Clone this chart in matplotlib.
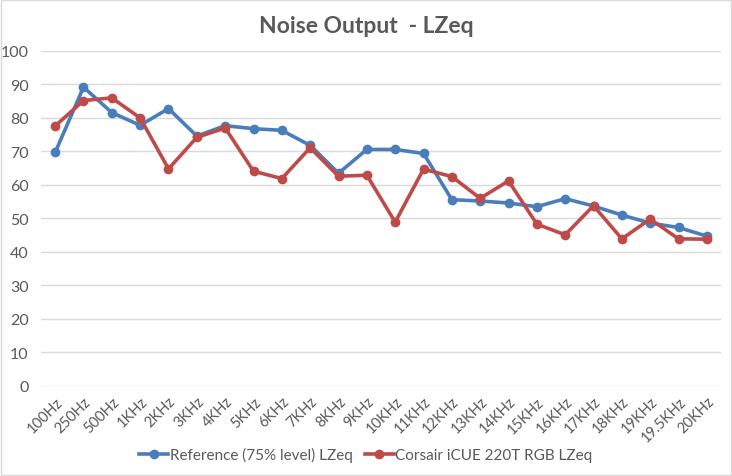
import matplotlib
matplotlib.use("Agg")
import matplotlib.pyplot as plt
from matplotlib.patches import Rectangle

categories = ["100Hz", "250Hz", "500Hz", "1KHz", "2KHz", "3KHz", "4KHz", "5KHz",
              "6KHz", "7KHz", "8KHz", "9KHz", "10KHz", "11KHz", "12KHz", "13KHz",
              "14KHz", "15KHz", "16KHz", "17KHz", "18KHz", "19KHz", "19.5KHz", "20KHz"]
reference = [69.7, 89.2, 81.6, 77.8, 82.8, 74.6, 77.7, 76.8, 76.3, 71.8, 63.5, 70.6,
             70.6, 69.4, 55.6, 55.2, 54.6, 53.5, 55.9, 53.7, 51.0, 48.6, 47.3, 44.7]
corsair = [77.6, 85.2, 86.0, 80.0, 64.8, 74.2, 77.0, 64.1, 61.9, 71.1, 62.6, 62.9,
           48.9, 64.7, 62.5, 56.0, 61.2, 48.3, 45.1, 53.8, 43.9, 49.8, 43.9, 43.8]
yticks = [0, 10, 20, 30, 40, 50, 60, 70, 80, 90, 100]

plt.rcParams['font.family'] = ['Lato', 'DejaVu Sans']
txt = '#595959'

fig = plt.figure(figsize=(7.32, 4.77), dpi=100)
fig.patches.append(Rectangle((0.001, 0.002), 0.997, 0.995, transform=fig.transFigure,
                             fill=False, edgecolor='#d9d9d9', linewidth=1))
ax = fig.add_axes([0.056, 0.189, 0.929, 0.702])
x = list(range(len(categories)))
ax.plot(x, reference, color='#4a7ebb', linewidth=2.6, marker='o', markersize=6,
        label='Reference (75% level) LZeq', zorder=3)
ax.plot(x, corsair, color='#be4b48', linewidth=2.6, marker='o', markersize=6,
        label='Corsair iCUE 220T RGB LZeq', zorder=4)
ax.set_xlim(-0.5, len(categories) - 0.5)
ax.set_ylim(0, 100)
ax.set_yticks(yticks)
ax.set_yticklabels([str(v) for v in yticks], fontsize=11.5, color=txt)
ax.set_xticks(x)
ax.set_xticklabels(categories, rotation=45, ha='right', rotation_mode='anchor',
                   fontsize=10.5, color=txt)
ax.tick_params(length=0)
ax.tick_params(axis='x', pad=6)
ax.tick_params(axis='y', pad=9)
ax.grid(axis='y', color='#d9d9d9', linewidth=1)
ax.set_axisbelow(True)
for s in ax.spines.values():
    s.set_visible(False)
fig.text(0.5, 0.945, 'Noise Output  - LZeq', ha='center', va='center',
         fontsize=16.5, color=txt, fontweight='bold')
fig.legend(loc='center', bbox_to_anchor=(0.5, 0.045), ncol=2, frameon=False,
           fontsize=11, labelcolor=txt, handlelength=1.9, handletextpad=0.1,
           columnspacing=0.8)
fig.savefig('out.png', dpi=100)
